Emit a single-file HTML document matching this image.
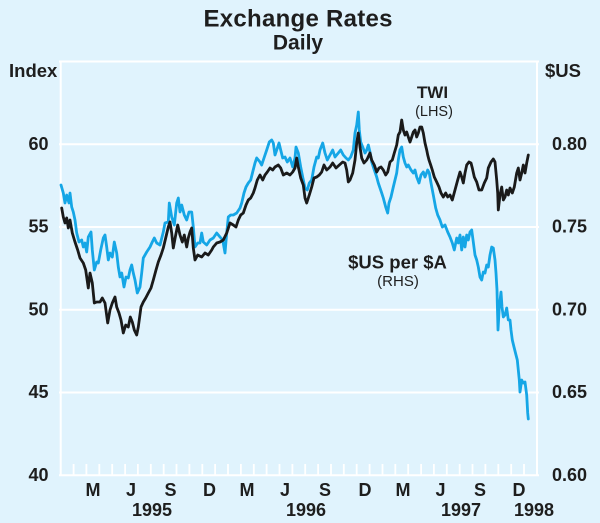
<!DOCTYPE html>
<html>
<head>
<meta charset="utf-8">
<style>
  html, body { margin:0; padding:0; background:#e0f3fd; }
  svg { display:block; }
  text { font-family: "Liberation Sans", Arial, sans-serif; fill:#1e1e1e; }
  .b { font-weight:bold; }
</style>
</head>
<body>
<svg width="600" height="523" viewBox="0 0 600 523" xmlns="http://www.w3.org/2000/svg">
  <rect x="0" y="0" width="600" height="523" fill="#e0f3fd"/>

  <!-- Title -->
  <text class="b" x="298" y="26.5" font-size="24" text-anchor="middle" textLength="189" lengthAdjust="spacing">Exchange Rates</text>
  <text class="b" x="298" y="49.5" font-size="21" text-anchor="middle">Daily</text>

  <!-- Axis unit labels -->
  <text class="b" x="9" y="77" font-size="18.5">Index</text>
  <text class="b" x="545" y="77" font-size="18.5">$US</text>

  <!-- Gridlines and frame -->
  <g stroke="#ffffff" stroke-width="2" fill="none">
    <line x1="59" y1="61.5" x2="539" y2="61.5"/>
    <line x1="59" y1="144.3" x2="539" y2="144.3"/>
    <line x1="59" y1="227" x2="539" y2="227"/>
    <line x1="59" y1="309.8" x2="539" y2="309.8"/>
    <line x1="59" y1="392.5" x2="539" y2="392.5"/>
    <line x1="59" y1="475.3" x2="539" y2="475.3"/>
    <line x1="60.7" y1="61.5" x2="60.7" y2="475.3"/>
    <line x1="537" y1="61.5" x2="537" y2="475.3"/>
  </g>

  <!-- Month ticks -->
  <g stroke="#ffffff" stroke-width="1.8">
    <line x1="73.6" y1="464" x2="73.6" y2="475"/>
    <line x1="86.4" y1="464" x2="86.4" y2="475"/>
    <line x1="99.3" y1="464" x2="99.3" y2="475"/>
    <line x1="112.2" y1="464" x2="112.2" y2="475"/>
    <line x1="125.1" y1="464" x2="125.1" y2="475"/>
    <line x1="137.9" y1="464" x2="137.9" y2="475"/>
    <line x1="150.8" y1="464" x2="150.8" y2="475"/>
    <line x1="163.7" y1="464" x2="163.7" y2="475"/>
    <line x1="176.5" y1="464" x2="176.5" y2="475"/>
    <line x1="189.4" y1="464" x2="189.4" y2="475"/>
    <line x1="202.3" y1="464" x2="202.3" y2="475"/>
    <line x1="215.1" y1="464" x2="215.1" y2="475"/>
    <line x1="228.0" y1="464" x2="228.0" y2="475"/>
    <line x1="240.9" y1="464" x2="240.9" y2="475"/>
    <line x1="253.8" y1="464" x2="253.8" y2="475"/>
    <line x1="266.6" y1="464" x2="266.6" y2="475"/>
    <line x1="279.5" y1="464" x2="279.5" y2="475"/>
    <line x1="292.4" y1="464" x2="292.4" y2="475"/>
    <line x1="305.2" y1="464" x2="305.2" y2="475"/>
    <line x1="318.1" y1="464" x2="318.1" y2="475"/>
    <line x1="331.0" y1="464" x2="331.0" y2="475"/>
    <line x1="343.8" y1="464" x2="343.8" y2="475"/>
    <line x1="356.7" y1="464" x2="356.7" y2="475"/>
    <line x1="369.6" y1="464" x2="369.6" y2="475"/>
    <line x1="382.5" y1="464" x2="382.5" y2="475"/>
    <line x1="395.3" y1="464" x2="395.3" y2="475"/>
    <line x1="408.2" y1="464" x2="408.2" y2="475"/>
    <line x1="421.1" y1="464" x2="421.1" y2="475"/>
    <line x1="433.9" y1="464" x2="433.9" y2="475"/>
    <line x1="446.8" y1="464" x2="446.8" y2="475"/>
    <line x1="459.7" y1="464" x2="459.7" y2="475"/>
    <line x1="472.5" y1="464" x2="472.5" y2="475"/>
    <line x1="485.4" y1="464" x2="485.4" y2="475"/>
    <line x1="498.3" y1="464" x2="498.3" y2="475"/>
    <line x1="511.2" y1="464" x2="511.2" y2="475"/>
    <line x1="524.0" y1="464" x2="524.0" y2="475"/>
  </g>

  <!-- Left axis labels -->
  <g class="b" font-size="18" text-anchor="end">
    <text x="48.5" y="149.8">60</text>
    <text x="48.5" y="232.5">55</text>
    <text x="48.5" y="315.3">50</text>
    <text x="48.5" y="398">45</text>
    <text x="48.5" y="480.8">40</text>
  </g>
  <!-- Right axis labels -->
  <g class="b" font-size="18" text-anchor="end">
    <text x="587" y="149.8">0.80</text>
    <text x="587" y="232.5">0.75</text>
    <text x="587" y="315.3">0.70</text>
    <text x="587" y="398">0.65</text>
    <text x="587" y="480.8">0.60</text>
  </g>

  <!-- Month labels -->
  <g class="b" font-size="18" text-anchor="middle">
    <text x="93" y="496">M</text>
    <text x="131" y="496">J</text>
    <text x="170.5" y="496">S</text>
    <text x="209.5" y="496">D</text>
    <text x="247" y="496">M</text>
    <text x="285" y="496">J</text>
    <text x="325" y="496">S</text>
    <text x="365" y="496">D</text>
    <text x="403" y="496">M</text>
    <text x="440.5" y="496">J</text>
    <text x="480" y="496">S</text>
    <text x="519" y="496">D</text>
  </g>
  <!-- Year labels -->
  <g class="b" font-size="18" text-anchor="middle">
    <text x="152" y="516">1995</text>
    <text x="306" y="516">1996</text>
    <text x="461" y="516">1997</text>
    <text x="534" y="516">1998</text>
  </g>

  <!-- $US per $A series (RHS) -->
  <polyline fill="none" stroke="#15a6e6" stroke-width="2.8" stroke-linejoin="round" stroke-linecap="round"
    points="61,185 63.3,193 65,203 66.7,195 69,203 70,193 71.7,207 73.3,212 75,220 76.7,233 79,242 81.7,240 83.3,247 85,243 86.7,252 88.3,237 91,232 92.3,250 94.3,270 96.7,262 98.3,263 100.7,250 103.3,238 105,235 106.7,247 108.3,260 110,253 112.3,257 114.3,242 116.7,253 118.3,267 120,277 121.7,273 124,287 126,277 128.3,278 130,270 131.7,265 133.3,273 135,280 137.3,293 140,287 141.7,273 143.3,258 146.7,252 150,247 152.3,242 154.3,238 156.7,243 160,245 163.3,232 165,223 168.3,222 169.3,203 171.7,217 174.3,225 176.7,203 178.3,198 180,212 181.7,205 184.3,215 186.7,220 189,212 191.7,212 193.3,227 195,247 197.7,243 200,243 201.7,233 203.3,242 206.7,245 210,240 213.3,238 216.7,233 220,237 222.7,240 225,253 226.7,233 228.3,217 230.7,215 233.3,215 236.7,213 240,208 241.7,203 244,193 246,187 248.3,183 250.7,180 252.7,172 255,163 256.7,158 260,162 261.7,165 264,158 266.7,150 269.3,142 271.7,140 273.3,143 275,155 276.7,150 279,143 280.7,150 282.7,158 285,157 287.3,162 290,158 292.7,167 295,158 296,147 298.3,153 300.7,167 302.7,177 305,188 307.3,190 309.3,183 311.7,180 314,167 316.7,157 318.3,158 320,150 322.7,143 325,153 327.3,160 330,155 332.7,150 335,157 338.3,153 340.7,150 343.3,155 346,158 348.3,160 350.7,157 353.3,150 355,133 356.7,125 358.3,112 359.3,130 360.7,142 362.7,147 365,153 366.7,150 368.3,145 370,152 371.7,162 373.3,167 375,172 376.7,177 378.3,183 380,188 381.7,193 383.3,198 385.7,207 387.7,213 389,203 391,197 393.3,187 395,180 396.7,173 398.3,160 400,150 401.7,147 403.3,157 405,163 406.7,167 408.3,165 411,170 413.3,173 415,170 416.7,177 419,183 421,175 423.3,172 425,177 427.7,170 429.3,173 431,183 433.3,195 435.7,208 437.7,215 440,220 442.3,227 445,225 447.7,232 450,237 452.3,243 454.3,250 456.7,238 458.3,243 460,235 461.7,250 463.3,237 465,247 466.7,235 468.3,240 470,232 471.7,230 473.3,242 475,255 476.7,260 478.3,267 480,277 481.7,280 483.3,272 485,273 486.7,265 488.3,267 490,255 491.7,247 493.3,248 495,260 496,273 497,290 497.3,303 498,330 499.3,307 501,292 502,307 503.3,317 505,315 506.7,308 508.3,320 510,320 511,330 512.3,340 514,347 516,355 517.3,360 518.3,370 519.3,380 520,392 521.7,380 523.3,383 525,382 526.7,395 527.7,413 528.3,419"/>

  <!-- TWI series (LHS) -->
  <polyline fill="none" stroke="#1a1a1a" stroke-width="2.8" stroke-linejoin="round" stroke-linecap="round"
    points="61.7,208 63.3,217 65,223 66.7,218 68.3,228 70,220 72.3,233 75,242 77.7,250 80,258 83.3,263 85.7,270 88.3,288 90,273 92.3,283 94.3,303 96.7,302 100,302 102.3,298 105,303 107.7,323 110,310 112.3,303 115,297 116.7,307 119,313 121,320 123.3,333 125.7,325 128.3,327 130.3,317 132.3,322 134.3,330 136.7,335 138.3,327 141,307 143.3,302 145.7,298 148.3,293 151,288 153.3,280 156,270 158.3,262 161,255 163.3,248 165.7,238 168.3,227 170,222 171.7,233 173.3,248 175.7,235 177.7,225 180,235 182.3,242 184.3,235 186.7,247 188.3,238 190,232 191.7,228 193.3,248 195,260 197.7,255 201.7,257 205,253 208.3,255 211.7,250 213.3,247 216.7,243 220,242 223.3,240 226.7,233 230,223 233.3,225 236,227 238.3,220 240.7,215 243.3,213 246,205 248.3,200 250.7,198 253.3,193 255,188 257.3,180 260,175 262.7,180 265,175 267.3,172 270,168 272.7,170 275,167 278.3,165 280.7,168 283.3,175 286.7,173 290,175 292.7,172 295,168 296.7,158 298.3,167 300.7,178 303.3,185 305,198 306.7,203 309.3,195 311.7,187 314,178 316.7,177 319.3,175 321.7,172 324,165 326.7,170 330,167 332.7,163 336,168 339.3,165 342.7,162 345,163 346.7,170 348.3,182 350,180 352.7,173 355,160 356.7,143 358.3,133 360,147 361.7,158 364,163 366.7,160 367.7,158 370,153 371.7,160 374.3,165 376.7,172 379,168 381,167 383.3,170 385.7,175 387.7,172 390,162 392.3,160 394.3,153 396.7,145 398.3,135 400,132 401.7,120 403.3,130 405,135 406.7,132 408.3,137 410,142 411.7,137 413.3,132 415,130 416.7,137 418.3,133 420,127 421.7,127 423.3,133 425,143 426.7,150 427.7,155 429,160 430.7,165 432.3,170 434.3,177 436.7,182 439,187 441,193 443.3,197 445.7,193 447.7,197 450,195 452.3,200 455,190 457.7,180 460,172 461.7,177 463.3,183 465,173 466.7,165 469,162 471,163 472.3,168 474.3,177 476.7,182 479,190 481.7,190 484.3,183 486.7,178 488.3,168 491,162 493.3,159 495,162 496.7,180 497.7,193 498.3,210 500,195 501.7,187 503.3,200 505,197 506.7,190 508.3,195 510,188 512.3,193 514.3,187 516.7,173 518.3,168 520,180 521.7,173 523.3,165 525,173 526.7,163 528.3,155"/>

  <!-- Series labels -->
  <text class="b" x="432.5" y="98" font-size="17" text-anchor="middle">TWI</text>
  <text x="434" y="116" font-size="14.5" text-anchor="middle">(LHS)</text>
  <text class="b" x="397.5" y="268.5" font-size="18.5" text-anchor="middle">$US per $A</text>
  <text x="398" y="286" font-size="15" text-anchor="middle">(RHS)</text>
</svg>
</body>
</html>
